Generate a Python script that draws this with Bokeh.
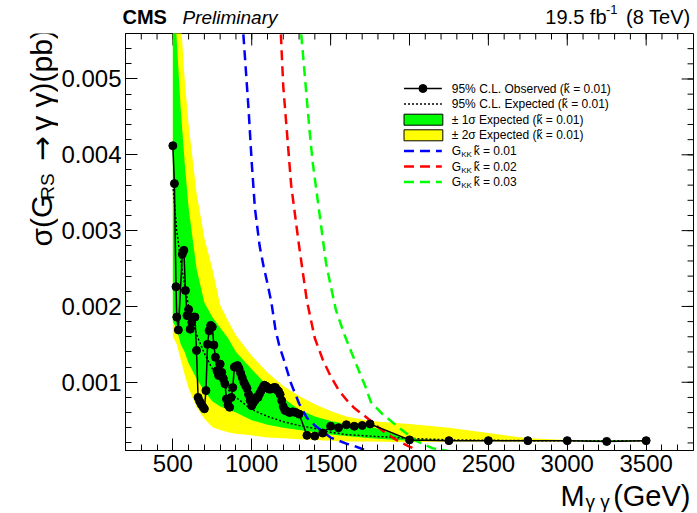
from bokeh.plotting import figure
from bokeh.layouts import column, row
from bokeh.models import Range1d, FixedTicker, PrintfTickFormatter, Label
from bokeh.embed import file_html
from bokeh.resources import INLINE
import math

# ---------------- data ----------------
obs_mass = [500, 510, 520, 525, 535, 560, 570, 580, 590, 600, 610, 620, 630, 640, 650,
            660, 670, 680, 690, 700, 710, 720, 730, 740, 750, 760, 770, 780, 790, 800,
            810, 820, 830, 840, 850, 860, 870, 880, 890, 900, 910, 920, 930, 940, 950,
            960, 970, 980, 990, 1000, 1010, 1020, 1030, 1040, 1050, 1060, 1070, 1080,
            1090, 1100, 1110, 1120, 1130, 1140, 1150, 1160, 1170, 1180, 1190, 1200,
            1210, 1220, 1240, 1260, 1280, 1300, 1350, 1400, 1450, 1500, 1550, 1600,
            1650, 1700, 1750, 2000, 2250, 2500, 2750, 3000, 3250, 3500]
obs_limit = [0.00412, 0.00362, 0.00226, 0.00186, 0.00169, 0.00269, 0.00274, 0.00221,
             0.00188, 0.00196, 0.00170, 0.00179, 0.00186, 0.00186, 0.00142, 0.00080,
             0.00075, 0.00071, 0.00068, 0.00065, 0.00089, 0.00150, 0.00168, 0.00175,
             0.00173, 0.00149, 0.00133, 0.00115, 0.00109, 0.00124, 0.00113, 0.00105,
             0.00098, 0.00078, 0.00070, 0.00067, 0.00080, 0.00093, 0.00120, 0.00121,
             0.00122, 0.00118, 0.00112, 0.00106, 0.00100, 0.00096, 0.00092, 0.00084,
             0.00076, 0.00069, 0.00073, 0.00076, 0.00080, 0.00080, 0.00085, 0.00089,
             0.00093, 0.00096, 0.00095, 0.00093, 0.00091, 0.00091, 0.00092, 0.00093,
             0.00093, 0.00090, 0.00088, 0.00084, 0.00076, 0.00068, 0.00063, 0.00062,
             0.00060, 0.00061, 0.00060, 0.00058, 0.00030, 0.00029, 0.00033, 0.00042,
             0.00040, 0.00044, 0.00042, 0.00043, 0.00045, 0.00024, 0.00023, 0.00023,
             0.00023, 0.00023, 0.00022, 0.00023]

band_mass = [500, 525, 550, 575, 600, 650, 700, 750, 800, 850, 900, 1000, 1100, 1200,
             1300, 1400, 1500, 1600, 1750, 2000, 2250, 2500, 2750, 3000, 3250, 3500]
exp_limit = [0.0036, 0.0030, 0.0026, 0.00228, 0.0020, 0.00163, 0.00138, 0.00118,
             0.00102, 0.0009, 0.0008, 0.00064, 0.00055, 0.00048, 0.00043, 0.00039,
             0.00034, 0.00031, 0.00029, 0.00026, 0.00024, 0.000235, 0.00023, 0.00023,
             0.00023, 0.00023]
exp_1s_lo = [0.0018, 0.0017, 0.0015, 0.0014, 0.00125, 0.00105, 0.00088, 0.00075,
             0.00068, 0.00064, 0.0006, 0.0005, 0.00044, 0.0004, 0.00037, 0.00034,
             0.00031, 0.00029, 0.00026, 0.00023, 0.000225, 0.000225, 0.000225,
             0.000225, 0.000225, 0.000225]
exp_1s_hi = [0.0065, 0.0055, 0.0046, 0.0039, 0.0033, 0.0025, 0.00205, 0.00186,
             0.00172, 0.00158, 0.0014, 0.00117, 0.00095, 0.00079, 0.00064, 0.00055,
             0.00049, 0.00045, 0.00042, 0.00025, 0.00024, 0.00024, 0.000235,
             0.000235, 0.000235, 0.000235]
exp_2s_lo = [0.0016, 0.0015, 0.0013, 0.0011, 0.00092, 0.00067, 0.00052, 0.00041,
             0.00037, 0.00034, 0.00032, 0.0003, 0.00027, 0.00026, 0.00025, 0.00024,
             0.00023, 0.00022, 0.00022, 0.00021, 0.00022, 0.00022, 0.00022, 0.00022,
             0.00022, 0.00022]
exp_2s_hi = [0.009, 0.0072, 0.0058, 0.0050, 0.0044, 0.0035, 0.0029, 0.0025, 0.00202,
             0.00181, 0.00162, 0.00135, 0.00113, 0.00095, 0.00082, 0.00071, 0.00062,
             0.00055, 0.00049, 0.00045, 0.0004, 0.00033, 0.00026, 0.00024, 0.00024,
             0.00024]

th001_mass = [940, 960, 980, 1000, 1020, 1050, 1075, 1100, 1125, 1150, 1175, 1200, 1250,
              1300, 1350, 1400, 1450, 1500, 1550, 1600, 1650, 1700, 1750]
th001_xsec = [0.0058, 0.0052, 0.0046, 0.0039, 0.0033, 0.0028, 0.00253, 0.0023, 0.00205,
              0.0017, 0.00148, 0.00132, 0.00098, 0.00072, 0.00053, 0.00043, 0.00035,
              0.00027, 0.00023, 0.00019, 0.00016, 0.00012, 0.00008]
th002_mass = [1180, 1200, 1250, 1300, 1350, 1400, 1450, 1500, 1550, 1600, 1650, 1700,
              1750, 1800, 1850, 1900, 1950, 2000, 2050]
th002_xsec = [0.0058, 0.0049, 0.0036, 0.0028, 0.00207, 0.00158, 0.0013, 0.00108, 0.0009,
              0.00077, 0.00066, 0.00058, 0.0005, 0.00041, 0.00033, 0.00026, 0.0002,
              0.00015, 0.00011]
th003_mass = [1305, 1366, 1387, 1429, 1471, 1503, 1534, 1587, 1660, 1723, 1755, 1829,
              1934, 2039, 2144, 2259]
th003_xsec = [0.0058, 0.00433, 0.00389, 0.00323, 0.00257, 0.00225, 0.00195, 0.00163,
              0.00125, 0.00093, 0.00074, 0.00058, 0.0004, 0.00023, 0.00013, 0.00009]

x_ticks = [500, 1000, 1500, 2000, 2500, 3000, 3500]
y_ticks = [0.001, 0.002, 0.003, 0.004, 0.005]

# ---------------- layout (page pixels) ----------------
PW, PH = 697, 513
HEAD_H = 30            # header strip
MID_H = 454            # plot strip
OVERLAP = 8            # footer slides up over the empty bottom of the plot strip
FOOT_Y = HEAD_H + MID_H - OVERLAP
FOOT_H = PH - FOOT_Y
YLAB_W = 58            # strip holding the y title
FL, FR, FT, FB = 122, 693, 33, 450   # frame edges
X0, X1 = 200, 3800
Y0, Y1 = 0.0001, 0.0056
FONT = "Liberation Sans"


def dx(px):
    return X0 + (px - FL) * (X1 - X0) / (FR - FL)


def dy(py):
    return Y1 - (py - FT) * (Y1 - Y0) / (FB - FT)


def strip(w, h, x0, y0, transparent=False):
    f = figure(width=w, height=h, output_backend="svg", toolbar_location=None,
               x_range=Range1d(x0, x0 + w), y_range=Range1d(y0 + h, y0),
               x_axis_type=None, y_axis_type=None, min_border=0,
               outline_line_color=None)
    if transparent:
        f.background_fill_alpha = 0
        f.border_fill_alpha = 0
    else:
        f.background_fill_color = "white"
        f.border_fill_color = "white"
    return f


def add_text(fig, text, x, y, size, align="left", style="normal", angle=0.0, font=FONT):
    # y (or x when rotated) is the centre of the capital-letter height
    fig.add_layout(Label(x=x, y=y, text=text, text_font=font,
                         text_font_size=f"{size}px", text_align=align,
                         text_baseline="middle", text_font_style=style,
                         text_color="black", angle=angle))


# ---------------- main plot ----------------
MAIN_W = PW - YLAB_W
p = figure(width=MAIN_W, height=MID_H, output_backend="svg", toolbar_location=None,
           x_range=Range1d(X0, X1), y_range=Range1d(Y0, Y1),
           min_border_left=FL - YLAB_W, min_border_right=PW - FR,
           min_border_top=FT - HEAD_H, min_border_bottom=HEAD_H + MID_H - FB)
p.xgrid.visible = False
p.ygrid.visible = False
p.outline_line_color = "black"
p.outline_line_alpha = 1.0
p.outline_line_width = 1
p.background_fill_color = "white"
p.border_fill_color = "white"

x_minor = list(range(300, 3800, 100))
y_minor = [round(0.0002 * i, 5) for i in range(1, 28)]

for ax in (p.xaxis[0], p.yaxis[0]):
    ax.major_tick_in = 12
    ax.major_tick_out = 0
    ax.minor_tick_in = 6
    ax.minor_tick_out = 0
    ax.axis_line_color = "black"
    ax.major_tick_line_color = "black"
    ax.minor_tick_line_color = "black"
    ax.major_label_text_font = FONT
    ax.major_label_text_font_size = "24px"
    ax.major_label_text_color = "black"
p.xaxis[0].ticker = FixedTicker(ticks=x_ticks, minor_ticks=x_minor)
p.yaxis[0].ticker = FixedTicker(ticks=y_ticks, minor_ticks=y_minor)
p.yaxis[0].formatter = PrintfTickFormatter(format="%.3f")
p.xaxis[0].major_label_standoff = 4
p.yaxis[0].major_label_standoff = 4

# mirrored ticks on the top and right edges (ROOT style)
sx = (X1 - X0) / (FR - FL)
sy = (Y1 - Y0) / (FB - FT)
top_x = x_ticks + x_minor
top_len = [12 * sy] * len(x_ticks) + [6 * sy] * len(x_minor)
p.segment(x0=top_x, y0=[Y1] * len(top_x), x1=top_x,
          y1=[Y1 - l for l in top_len], line_color="black", line_width=1)
right_y = y_ticks + y_minor
right_len = [12 * sx] * len(y_ticks) + [6 * sx] * len(y_minor)
p.segment(x0=[X1] * len(right_y), y0=right_y, x1=[X1 - l for l in right_len],
          y1=right_y, line_color="black", line_width=1)

# ---------------- data glyphs ----------------
YELLOW = "#ffff00"
GREEN = "#00ff00"
p.varea(x=band_mass, y1=exp_2s_lo, y2=exp_2s_hi, fill_color=YELLOW)
p.varea(x=band_mass, y1=exp_1s_lo, y2=exp_1s_hi, fill_color=GREEN)
p.line(band_mass, exp_limit, line_color="black", line_width=1.5, line_dash="2 2")

p.line(th001_mass, th001_xsec, line_color="#0000ff", line_width=2.5, line_dash="10 6")
p.line(th002_mass, th002_xsec, line_color="#ff0000", line_width=2.5, line_dash="10 6")
p.line(th003_mass, th003_xsec, line_color="#00ff00", line_width=2.5, line_dash="10 6")

p.line(obs_mass, obs_limit, line_color="black", line_width=1.5)
p.scatter(obs_mass, obs_limit, size=8, marker="circle", fill_color="black",
          line_color="black")

# ---------------- legend (inside frame) ----------------
rows = [88, 103.6, 119.2, 134.8, 150.4, 166, 181.6]
LX0, LX1, TX = 402, 440, 450
p.line([dx(LX0), dx(LX1)], [dy(rows[0])] * 2, line_color="black", line_width=1.5)
p.scatter([dx(421)], [dy(rows[0])], size=8, marker="circle", color="black")
p.line([dx(LX0), dx(LX1)], [dy(rows[1])] * 2, line_color="black", line_width=1.5,
       line_dash="2 2")
p.quad(left=dx(LX0), right=dx(LX1 + 1), top=dy(rows[2] - 5.5), bottom=dy(rows[2] + 5.5),
       fill_color=GREEN, line_color="black", line_width=1)
p.quad(left=dx(LX0), right=dx(LX1 + 1), top=dy(rows[3] - 5.5), bottom=dy(rows[3] + 5.5),
       fill_color=YELLOW, line_color="black", line_width=1)
for r, c in zip(rows[4:], ["#0000ff", "#ff0000", "#00ff00"]):
    p.line([dx(LX0), dx(LX1)], [dy(r)] * 2, line_color=c, line_width=2.5,
           line_dash="10 6")

ktil = "k\u0303"
legend_texts = [f"95% C.L. Observed ({ktil} = 0.01)",
                f"95% C.L. Expected ({ktil} = 0.01)",
                f"\u00b1 1\u03c3 Expected ({ktil} = 0.01)",
                f"\u00b1 2\u03c3 Expected ({ktil} = 0.01)"]
for r, t in zip(rows[:4], legend_texts):
    add_text(p, t, dx(TX), dy(r), 12)
for r, kv in zip(rows[4:], ["0.01", "0.02", "0.03"]):
    add_text(p, "G", dx(TX), dy(r), 12)
    add_text(p, "KK", dx(TX + 9.5), dy(r + 3.5), 8)
    add_text(p, f"{ktil} = {kv}", dx(TX + 22), dy(r), 12)

# ---------------- header strip ----------------
head = strip(PW, HEAD_H, 0, 0)
add_text(head, "CMS", 122, 16, 20, style="bold")
add_text(head, "Preliminary", 182, 17, 19, style="italic")
add_text(head, "(8 TeV)", 690, 16, 20, align="right")
add_text(head, "-1", 617, 9, 13, align="right")
add_text(head, "19.5 fb", 606, 16, 20, align="right")

# ---------------- y-title strip ----------------
ylab = strip(YLAB_W, MID_H, 0, HEAD_H)
A = math.pi / 2
add_text(ylab, "\u03c3(G", 41, 262, 30, angle=A)
add_text(ylab, "RS", 47, 211, 19, angle=A)
add_text(ylab, "\u2192", 41, 169, 30, angle=A, font="DejaVu Sans")
add_text(ylab, "\u03b3 \u03b3)(pb)", 41, 136, 30, angle=A)

# ---------------- footer strip (x title) ----------------
foot = strip(PW, FOOT_H, 0, FOOT_Y, transparent=True)
foot.styles = {"margin-top": f"-{OVERLAP}px"}
add_text(foot, "M", 560, 495, 29)
add_text(foot, "\u03b3 \u03b3", 585, 501, 19)
add_text(foot, "(GeV)", 690, 495, 29, align="right")

layout = column(head, row(ylab, p), foot)
open("out.html", "w").write(file_html(layout, INLINE))
